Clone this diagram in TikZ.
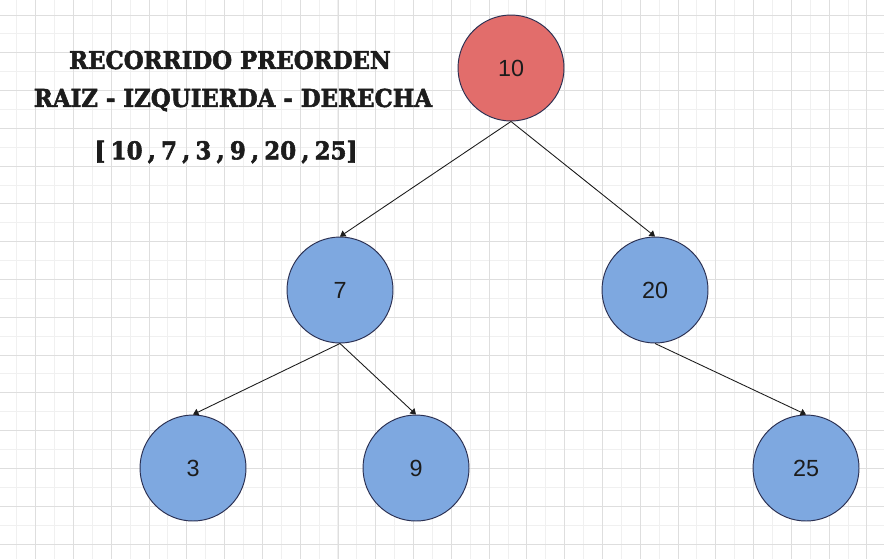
\documentclass[tikz,border=0pt]{standalone}
\usepackage{fontspec}
\usepackage{tikz}
\usetikzlibrary{arrows.meta}
\setmainfont{Liberation Sans}
\newfontfamily\slabfont{DejaVu Serif}[FakeStretch=0.93, FakeBold=2.2]
\newcommand{\tightspaces}{\spaceskip=3pt\relax}
\definecolor{rootred}{HTML}{E26D6B}
\definecolor{leafblue}{HTML}{7EA8E0}
\definecolor{rimblue}{HTML}{2B3052}
\definecolor{gridminor}{HTML}{F0F0F0}
\definecolor{gridmajor}{HTML}{DEDEDE}
\definecolor{inkgray}{HTML}{1C1C1C}

\begin{document}
\begin{tikzpicture}[x=0.02cm, y=-0.02cm,
    treenode/.style={shape=circle, draw=rimblue, line width=0.55pt, minimum size=2.12cm,
        inner sep=0pt, text=inkgray, font=\fontsize{13.3}{15}\selectfont},
    rootnode/.style={treenode, fill=rootred},
    childnode/.style={treenode, fill=leafblue},
    branch/.style={draw=inkgray, line width=0.5pt, -{Triangle[length=1.1mm, width=1.4mm]}},
    headline/.style={text=inkgray, font=\slabfont\bfseries\fontsize{14}{16}\selectfont}]
    \useasboundingbox (0,0) rectangle (884,559);
    % grid paper
    \foreach \k in {0,...,45} \draw[gridminor, line width=0.5pt] ({16.8+\k*18.89},0) -- ({16.8+\k*18.89},559);
    \foreach \k in {0,...,28} \draw[gridminor, line width=0.5pt] (0,{15+\k*18.89}) -- (884,{15+\k*18.89});
    \foreach \k in {0,...,22} \draw[gridmajor, line width=0.5pt] ({35.7+\k*37.78},0) -- ({35.7+\k*37.78},559);
    \foreach \k in {0,...,14} \draw[gridmajor, line width=0.5pt] (0,{15+\k*37.78}) -- (884,{15+\k*37.78});

    % title
    \node[headline] (titleA) at (230,60) {RECORRIDO PREORDEN};
    \node[headline] (titleB) at (233,100) {RAIZ - IZQUIERDA - DERECHA};
    \node[headline] (titleC) at (226,152) {\tightspaces [ 10 , 7 , 3 , 9 , 20 , 25]};

    % tree
    \node[rootnode] (n10) at (511,68) {10};
    \node[childnode] (n7) at (340,290) {7};
    \node[childnode] (n20) at (655,290) {20};
    \node[childnode] (n3) at (193,468) {3};
    \node[childnode] (n9) at (416,468) {9};
    \node[childnode] (n25) at (806,468) {25};

    \draw[branch] (n10.south) -- (n7.north);
    \draw[branch] (n10.south) -- (n20.north);
    \draw[branch] (n7.south) -- (n3.north);
    \draw[branch] (n7.south) -- (n9.north);
    \draw[branch] (n20.south) -- (n25.north);
\end{tikzpicture}
\end{document}
